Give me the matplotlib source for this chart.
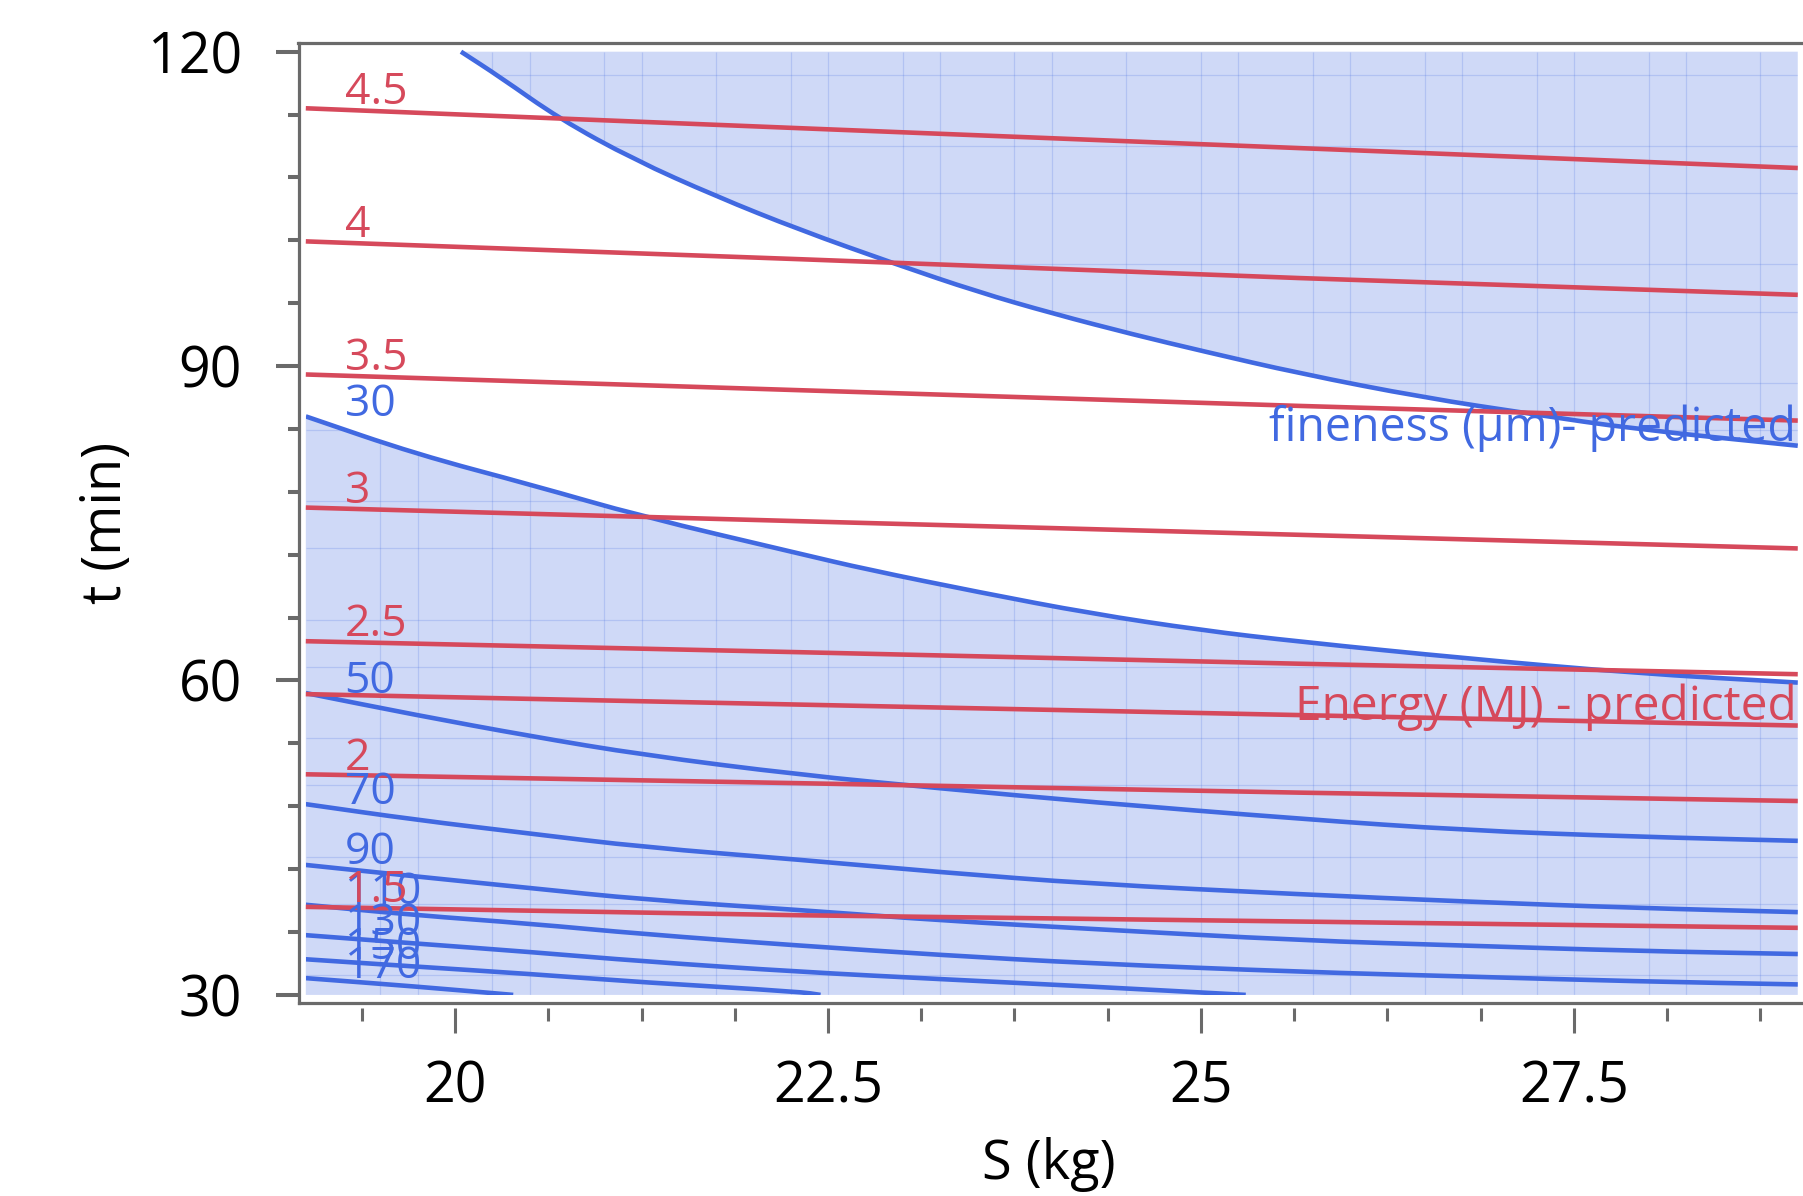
import numpy as np
import matplotlib.pyplot as plt
from matplotlib.patches import Rectangle, PathPatch
from matplotlib.lines import Line2D
from matplotlib.path import Path
from matplotlib.ticker import MultipleLocator

plt.rcParams['font.family'] = ['Open Sans', 'DejaVu Sans']

# Energy (MJ) contours - nearly straight, read at four S positions
s_energy = [19.0, 22.31, 25.66, 29.0]
energy_labels = ['4.5', '4', '3.5', '3', '2.5', '', '2', '1.5']
energy_t = [
    [114.6, 112.7, 110.8, 108.9],
    [101.9, 100.2, 98.4, 96.8],
    [89.2, 87.7, 86.2, 84.8],
    [76.5, 75.2, 73.9, 72.6],
    [63.75, 62.7, 61.6, 60.6],
    [58.7, 57.7, 56.7, 55.7],   # predicted energy line (unlabelled)
    [51.05, 50.2, 49.3, 48.5],
    [38.4, 37.6, 37.0, 36.4],
]

# fineness (um) contours
s_upper = [20.04, 20.30, 20.70, 21.20, 21.75, 22.31, 22.96, 23.50, 24.01,
           24.55, 25.02, 25.66, 26.49, 27.23, 27.90, 29.0]
t_upper = [120.0, 117.6, 113.6, 109.7, 106.2, 103.0, 99.7, 97.1, 95.0,
           93.0, 91.4, 89.3, 87.0, 85.4, 84.0, 82.4]

s_f30 = [19.0, 19.74, 20.53, 21.24, 22.31, 22.76, 23.52, 24.26, 25.0,
         25.66, 26.78, 27.9, 29.0]
t_f30 = [85.2, 81.6, 78.6, 75.7, 72.1, 70.6, 68.4, 66.4, 64.8,
         63.7, 62.1, 60.7, 59.8]

s_fine = [19.0, 19.74, 20.5, 21.26, 22.31, 23.26, 24.26, 25.66, 26.78, 27.9, 29.0]
t_f50 = [58.8, 56.7, 54.7, 52.9, 51.0, 49.7, 48.4, 46.8, 45.7, 45.1, 44.7]
t_f70 = [48.2, 46.7, 45.4, 44.1, 42.9, 41.7, 40.6, 39.6, 38.9, 38.3, 37.9]
t_f90 = [42.4, 41.3, 40.2, 39.1, 38.1, 37.1, 36.3, 35.2, 34.7, 34.2, 33.9]
t_f110 = [38.6, 37.6, 36.8, 35.8, 34.7, 33.8, 33.0, 32.2, 31.75, 31.3, 31.0]
s_f130 = [19.0, 19.74, 20.5, 21.26, 22.31, 23.26, 24.26, 25.3]
t_f130 = [35.7, 34.9, 34.1, 33.2, 32.2, 31.5, 30.8, 30.0]
s_f150 = [19.0, 19.74, 20.5, 21.26, 22.31, 22.45]
t_f150 = [33.4, 32.7, 32.0, 31.2, 30.3, 30.0]
s_f170 = [19.0, 19.74, 20.39]
t_f170 = [31.6, 30.8, 30.0]

fine_labels = ['30', '50', '70', '90', '110', '130', '150', '170']
fine_s = [s_f30, s_fine, s_fine, s_fine, s_fine, s_f130, s_f150, s_f170]
fine_t = [t_f30, t_f50, t_f70, t_f90, t_f110, t_f130, t_f150, t_f170]

# faint tile seams that show through the shaded areas
tile_s = [19.5, 19.75, 20.25, 20.5, 21.0, 21.25, 21.75, 22.25, 22.5, 23.0, 23.25,
          23.75, 24.0, 24.5, 25.0, 25.25, 25.75, 26.0, 26.5, 26.75, 27.25, 27.5,
          28.0, 28.25, 28.75]
tile_t = [117.8, 111.0, 106.5, 99.7, 95.2, 88.4, 83.9, 77.1, 72.6, 65.8, 61.3,
          54.5, 50.0, 43.2, 38.7, 31.9]

RED = '#d6495b'
BLUE = '#4169e1'
FRAME = '#6a6a6a'
LW = 3.3


def curve_path(s, t):
    # quadratic bezier through the midpoints, so the read points give a smooth line
    pts = np.column_stack([s, t])
    verts = [pts[0]]
    codes = [Path.MOVETO]
    if len(pts) < 3:
        verts.append(pts[-1])
        codes.append(Path.LINETO)
        return verts, codes
    verts.append((pts[0] + pts[1]) / 2)
    codes.append(Path.LINETO)
    for i in range(1, len(pts) - 1):
        verts += [pts[i], (pts[i] + pts[i + 1]) / 2]
        codes += [Path.CURVE3, Path.CURVE3]
    verts.append(pts[-1])
    codes.append(Path.LINETO)
    return verts, codes


W, H = 1803, 1196
fig = plt.figure(figsize=(W / 100, H / 100), dpi=100)
ax = fig.add_axes([298.5 / W, 1 - 1002.7 / H, (1810 - 298.5) / W, (1002.7 - 43.3) / H])
ax.set_xlim(18.951, 29.082)
ax.set_ylim(29.256, 120.80)

clip = Rectangle((19, 30), 10, 90, transform=ax.transData, fill=False, visible=False)
ax.add_patch(clip)

# shaded (out of spec) fineness regions
v, c = curve_path(s_upper, t_upper)
upper_fill = Path(v + [(29.0, 120.0), (s_upper[0], 120.0), (0, 0)],
                  c + [Path.LINETO, Path.LINETO, Path.CLOSEPOLY])
v, c = curve_path(s_f30, t_f30)
lower_fill = Path(v + [(29.0, 30.0), (19.0, 30.0), (0, 0)],
                  c + [Path.LINETO, Path.LINETO, Path.CLOSEPOLY])
for p in (upper_fill, lower_fill):
    ax.add_patch(PathPatch(p, facecolor=BLUE, alpha=0.25, lw=0))
    vl = ax.vlines(tile_s, 30, 120, color=BLUE, alpha=0.2, lw=0.9)
    hl = ax.hlines(tile_t, 19, 29, color=BLUE, alpha=0.2, lw=0.9)
    vl.set_clip_path(p, ax.transData)
    hl.set_clip_path(p, ax.transData)

# fineness contours
v, c = curve_path(s_upper, t_upper)
ax.add_patch(PathPatch(Path(v, c), fill=False, edgecolor=BLUE, lw=LW, capstyle='butt'))
for lab, s, t in zip(fine_labels, fine_s, fine_t):
    v, c = curve_path(s, t)
    pp = PathPatch(Path(v, c), fill=False, edgecolor=BLUE, lw=LW, capstyle='butt')
    ax.add_patch(pp)
    pp.set_clip_path(clip)
    ax.text(19.26, t[0] + 0.05, lab, color=BLUE, fontsize=32, va='baseline', ha='left')

# energy contours
for lab, t in zip(energy_labels, energy_t):
    ax.plot(s_energy, t, color=RED, lw=LW, solid_capstyle='butt')
    if lab:
        ax.text(19.26, t[0] + 0.45, lab, color=RED, fontsize=32, va='baseline', ha='left')

ax.text(28.99, 82.85, 'fineness (\u00b5m)- predicted', color=BLUE, fontsize=33.5,
        ha='right', va='baseline')
ax.text(28.99, 56.2, 'Energy (MJ) - predicted', color=RED, fontsize=34.5,
        ha='right', va='baseline')

# frame and ticks
for side in ['left', 'top', 'right']:
    ax.spines[side].set_color(FRAME)
    ax.spines[side].set_linewidth(2.3)
ax.spines['bottom'].set_position(('outward', 3.6))
ax.spines['bottom'].set_visible(False)
ax.add_line(Line2D([0, 1], [0, 0], transform=ax.transAxes, color=FRAME, lw=2.3, clip_on=False))

ax.set_xticks([20, 22.5, 25, 27.5])
ax.set_xticklabels(['20', '22.5', '25', '27.5'])
ax.xaxis.set_minor_locator(MultipleLocator(0.625))
ax.set_yticks([30, 60, 90, 120])
ax.yaxis.set_minor_locator(MultipleLocator(6))

ax.tick_params(axis='x', which='major', length=18, width=2.2, color=FRAME, labelsize=40, pad=19)
ax.tick_params(axis='x', which='minor', length=9.4, width=2.2, color=FRAME)
ax.tick_params(axis='y', which='major', length=16.6, width=2.9, color=FRAME, labelsize=40, pad=24)
ax.tick_params(axis='y', which='minor', length=7.6, width=2.9, color=FRAME)

fig.text(1049 / W, 1 - 1164 / H, 'S (kg)', fontsize=39, ha='center', va='center')
fig.text(106 / W, 1 - 523 / H, 't (min)', fontsize=39, ha='center', va='center', rotation=90)

fig.savefig('out.png', dpi=100)
